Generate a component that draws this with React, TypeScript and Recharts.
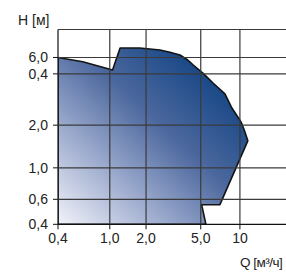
import { ScatterChart, Scatter, XAxis, YAxis, ReferenceLine } from 'recharts';

// border of the pump working field, walked clockwise from the top-left corner
// Q in m3/h, H in m
const flowQ = [0.4, 0.62, 1.05, 1.2, 1.7, 2.43, 2.9, 3.46, 3.92, 4.38, 5.22, 6.24, 7.67, 8.68, 10.2, 10.8, 11.5, 7.02, 5.08, 5.48, 0.4];
const headH = [6.0, 5.6, 4.9, 7.0, 7.0, 6.78, 6.54, 6.25, 5.81, 5.31, 4.64, 3.95, 3.32, 2.64, 2.11, 1.85, 1.55, 0.55, 0.55, 0.4, 0.4];

const qTicks = [0.4, 1, 1.9, 5, 10];
const qLabels = ['0,4', '1,0', '2,0', '5,0', '10'];
const hTicks = [0.4, 0.6, 1, 2, 4.6, 6];
const hLabels = ['0,4', '0,6', '1,0', '2,0', '0,4', '6,0'];
const qDomain = [0.4, 22.6];
const hDomain = [0.4, 9.45];

const outline = flowQ.map((q, i) => ({ q, h: headH[i] }));

const font = '"Liberation Sans", Arial, sans-serif';
const gridColor = '#3a3a3a';

const FieldShape = (props: any) => {
  const pts = props.points || [];
  const d = pts.map((p: any, i: number) => `${i ? 'L' : 'M'}${p.x},${p.y}`).join(' ') + ' Z';
  return <path d={d} fill="url(#fieldFill)" stroke="#141414" strokeWidth={1.6} strokeLinejoin="round" />;
};

const App = () => {
  return (
    <div style={{ position: 'absolute', left: 0, top: 0, width: 286, height: 273, overflow: 'hidden', background: '#fff', fontFamily: font }}>
      <ScatterChart width={286} height={273} margin={{ top: 29.5, right: 0, bottom: 18, left: 0 }}>
        <defs>
          <linearGradient id="fieldFill" x1="0" y1="1" x2="1" y2="0">
            <stop offset="0" stopColor="#f2f3fa" />
            <stop offset="0.3" stopColor="#98a7cb" />
            <stop offset="0.55" stopColor="#4c689e" />
            <stop offset="0.8" stopColor="#1c4a88" />
            <stop offset="1" stopColor="#003f7c" />
          </linearGradient>
        </defs>
        <XAxis
          type="number"
          dataKey="q"
          scale="log"
          domain={qDomain}
          allowDataOverflow
          ticks={qTicks}
          interval={0}
          tickFormatter={(v: number) => qLabels[qTicks.indexOf(v)]}
          height={30.7}
          tickSize={5}
          tickMargin={4}
          axisLine={{ stroke: '#111', strokeWidth: 1.2 }}
          tickLine={{ stroke: '#111' }}
          tick={{ fill: '#222', fontSize: 14, fontFamily: font }}
        />
        <YAxis
          type="number"
          dataKey="h"
          scale="log"
          domain={hDomain}
          allowDataOverflow
          ticks={hTicks}
          interval={0}
          tickFormatter={(v: number) => hLabels[hTicks.indexOf(v)]}
          width={58}
          tickSize={5}
          tickMargin={5}
          axisLine={{ stroke: '#111', strokeWidth: 1.2 }}
          tickLine={{ stroke: '#111' }}
          tick={{ fill: '#222', fontSize: 14, fontFamily: font }}
        />
        <Scatter data={outline} isAnimationActive={false} line={FieldShape} shape={() => <g />} zIndex={100} />
        {qTicks.slice(1).map((q) => (
          <ReferenceLine key={`q${q}`} x={q} stroke={gridColor} strokeWidth={1.2} zIndex={700} />
        ))}
        {[...hTicks.slice(1), hDomain[1]].map((h) => (
          <ReferenceLine key={`h${h}`} y={h} stroke={gridColor} strokeWidth={1.2} zIndex={700} />
        ))}
      </ScatterChart>
      <div style={{ position: 'absolute', left: 18, top: 13, fontSize: 14, lineHeight: '14px', color: '#222', whiteSpace: 'nowrap' }}>H [м]</div>
      <div style={{ position: 'absolute', left: 240, top: 256, fontSize: 13.5, lineHeight: '14px', letterSpacing: -0.5, color: '#222', whiteSpace: 'nowrap' }}>Q [м³/ч]</div>
    </div>
  );
};

export default App;
